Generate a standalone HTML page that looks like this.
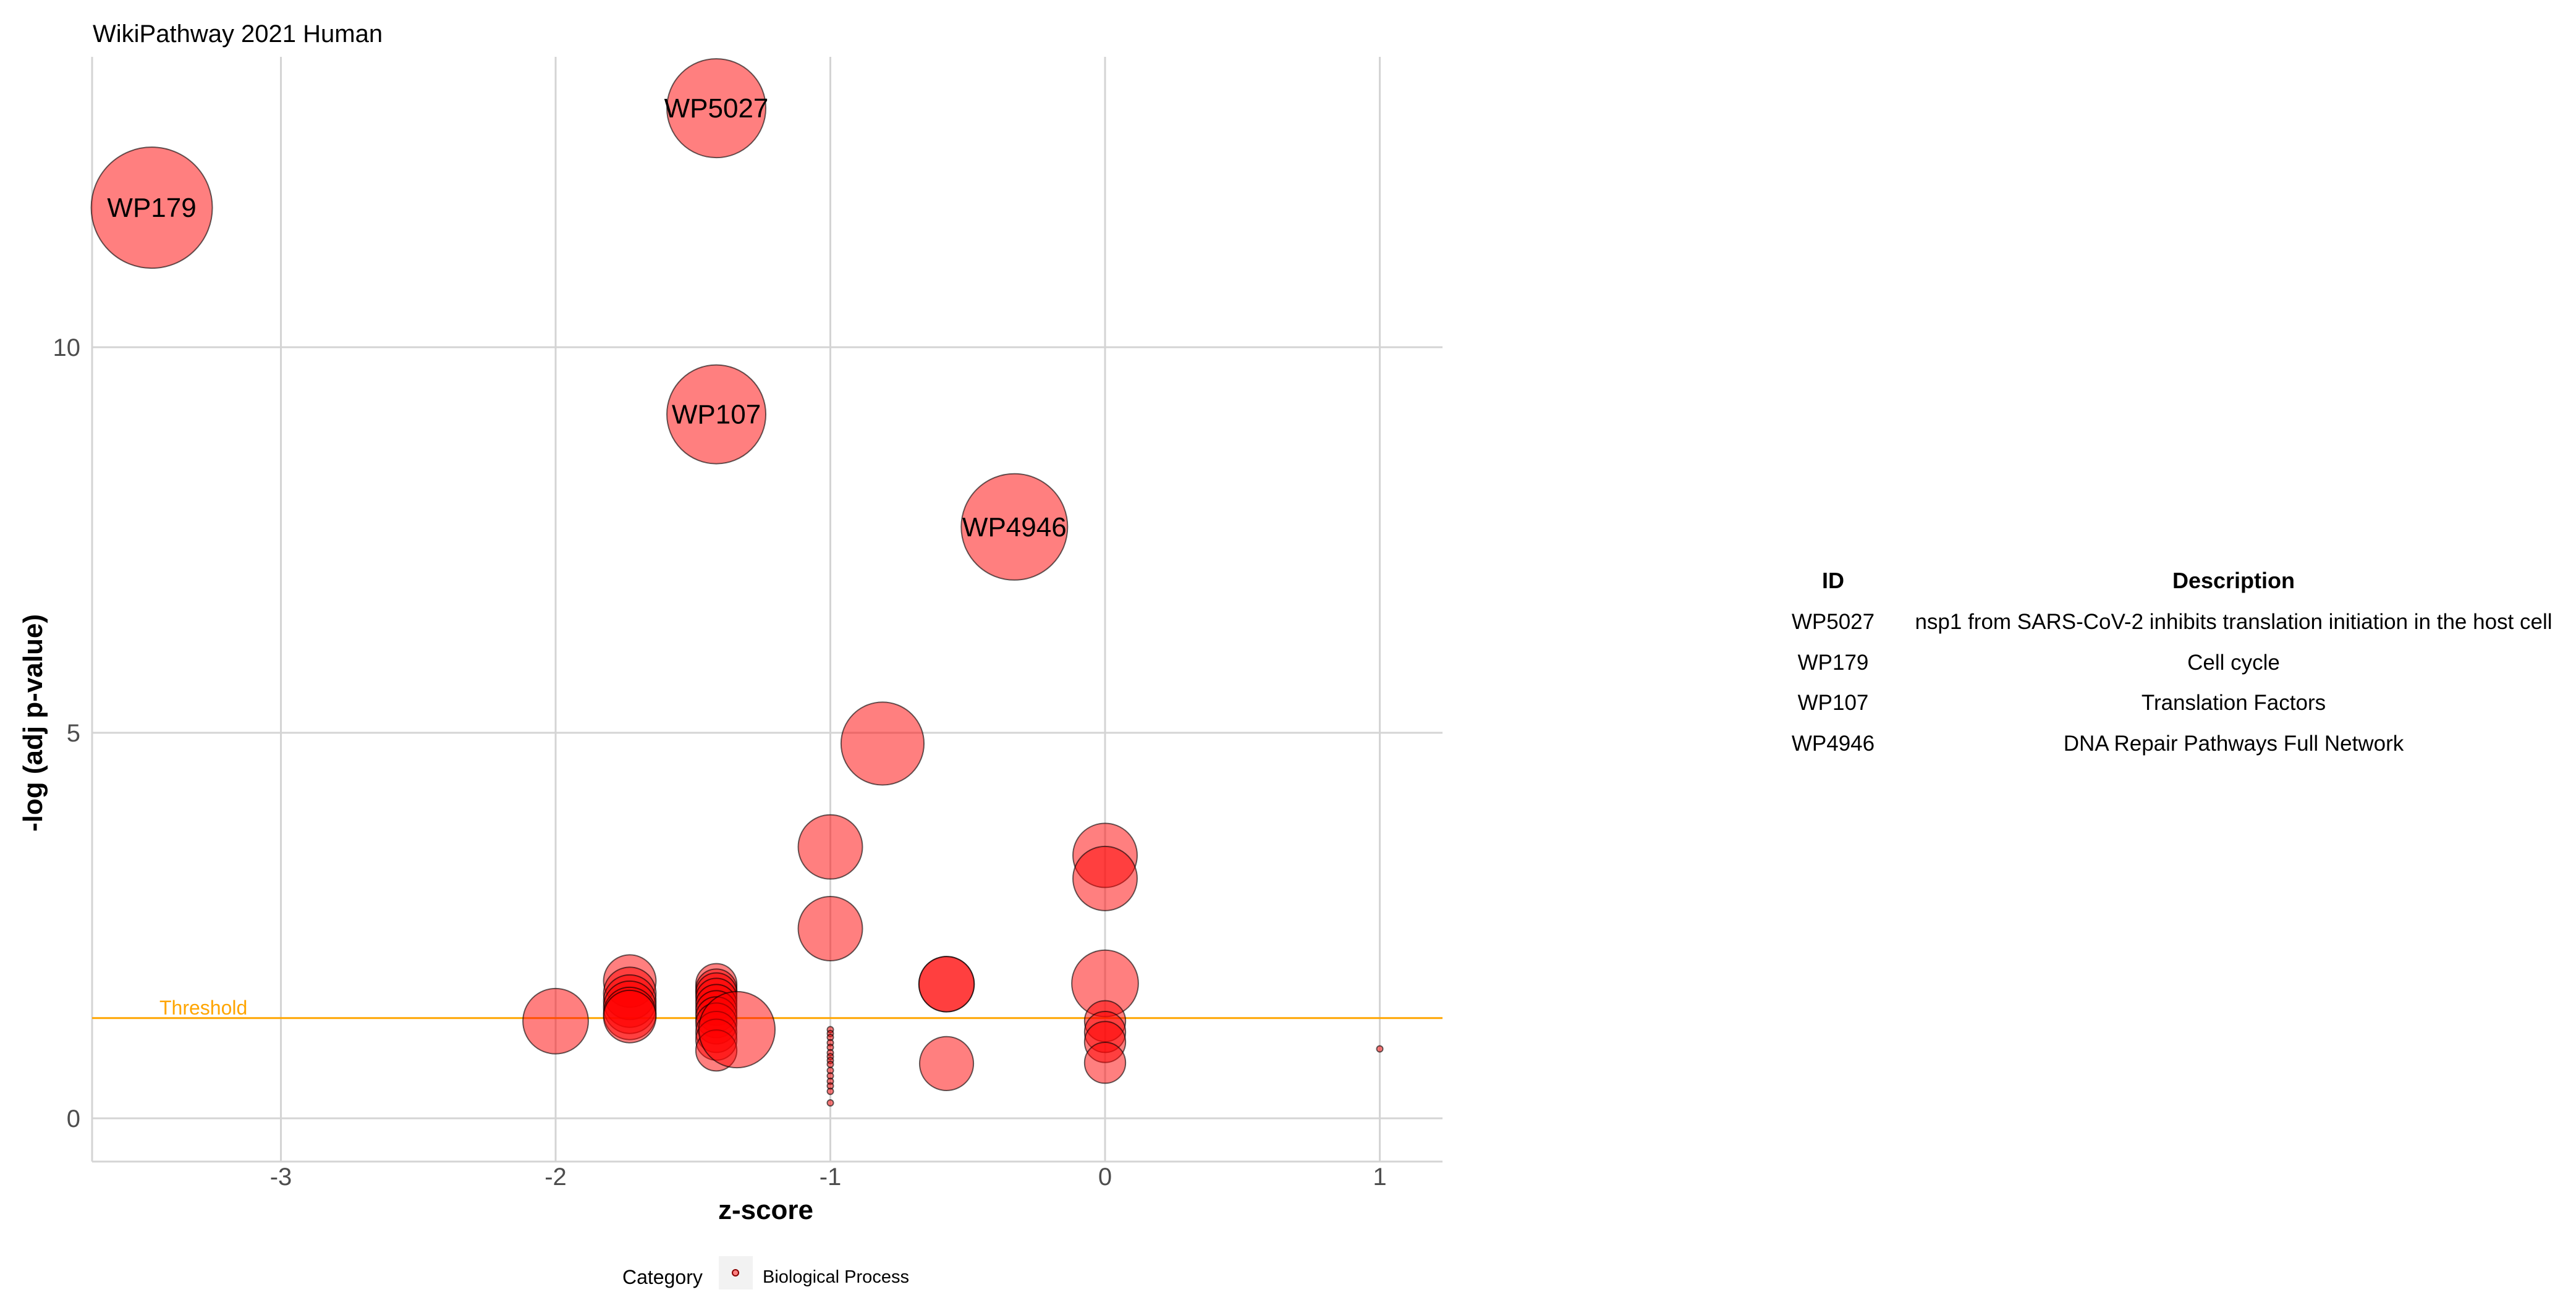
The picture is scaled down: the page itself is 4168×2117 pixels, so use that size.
<!DOCTYPE html>
<html><head><meta charset="utf-8"><style>
html,body{margin:0;padding:0;background:#fff;}
svg{display:block;font-family:"Liberation Sans",Arial,sans-serif;}
</style></head><body>
<svg id="chart" width="4168" height="2117" viewBox="0 0 4168 2117" xmlns="http://www.w3.org/2000/svg">
<text x="150" y="68" font-size="40" fill="#000">WikiPathway 2021 Human</text>
<g id="grid"></g>
<g id="xticks"></g>
<g id="yticks"></g>
<g id="thr"></g>
<g id="bubbles"></g>
<g id="labels"></g>
<text x="1239" y="1973" font-size="44" font-weight="bold" text-anchor="middle" fill="#000">z-score</text>
<text transform="translate(68,1170) rotate(-90)" font-size="44" font-weight="bold" text-anchor="middle" fill="#000">-log (adj p-value)</text>
<g>
<text x="1007" y="2078" font-size="32" fill="#000">Category</text>
<rect x="1163" y="2033" width="55" height="54" fill="#f2f2f2"/>
<circle cx="1190" cy="2060" r="5" fill="#ff8080" stroke="#800" stroke-width="2"/>
<text x="1234" y="2076" font-size="29" fill="#000">Biological Process</text>
</g>
<g id="table">
<text x="2966" y="952" font-size="36" font-weight="bold" text-anchor="middle">ID</text>
<text x="3614" y="952" font-size="36" font-weight="bold" text-anchor="middle">Description</text>
</g>
<script>
const zScores=[-1.415,-3.47,-1.415,-0.33,-0.81,-1,-1,0,0,0,-0.577,-0.577,-0.577,-2,-1.73,-1.73,-1.73,-1.73,-1.73,-1.73,-1.415,-1.415,-1.415,-1.415,-1.415,-1.415,-1.415,-1.415,-1.415,-1.415,-1.415,-1.34,0,0,0,0,-1,-1,-1,-1,-1,-1,-1,-1,-1,-1,-1,-1,-1,-1,-1,1];
const logP=[13.1,11.81,9.13,7.67,4.86,3.52,2.46,3.41,3.11,1.75,1.74,1.74,0.71,1.26,1.78,1.62,1.52,1.44,1.36,1.32,1.74,1.67,1.62,1.55,1.47,1.39,1.31,1.23,1.12,1.02,0.88,1.15,1.26,1.12,0.99,0.72,1.15,1.1,1.05,0.98,0.92,0.85,0.8,0.75,0.7,0.62,0.55,0.48,0.42,0.35,0.2,0.9];
const geneCounts=[64,96,64,74,45,27,27,27,27,29,20,20,19,28,18,18,18,18,18,18,11,11,11,11,11,11,11,11,11,11,11,38,11,11,11,11,0.25,0.25,0.25,0.25,0.25,0.25,0.25,0.25,0.25,0.25,0.25,0.25,0.25,0.25,0.25,0.25];
const labelIds=["WP5027","WP179","WP107","WP4946"];
const xTicks=[-3,-2,-1,0,1];
const yTicks=[0,5,10];
const threshold=1.3;
const tableIds=["WP5027","WP179","WP107","WP4946"];
const tableDesc=["nsp1 from SARS-CoV-2 inhibits translation initiation in the host cell","Cell cycle","Translation Factors","DNA Repair Pathways Full Network"];

const NS="http://www.w3.org/2000/svg";
const PL=149,PR=2334,PT=92,PB=1880;
function xs(v){return 1788+v*444.5;}
function ys(v){return 1810-v*124.8;}
function rs(c){return 10*Math.sqrt(c);}
function mk(tag,attrs,parent){const e=document.createElementNS(NS,tag);for(const k in attrs)e.setAttribute(k,attrs[k]);parent.appendChild(e);return e;}
const grid=document.getElementById('grid');
let l=mk('line',{x1:PL,x2:PL,y1:PT,y2:PB,stroke:'#d4d4d4','stroke-width':3},grid);


l=mk('line',{x1:PL,x2:PR,y1:PB,y2:PB,stroke:'#d4d4d4','stroke-width':3},grid);


xTicks.forEach(t=>{
 const g=mk('line',{x1:xs(t),x2:xs(t),y1:PT,y2:PB,stroke:'#d4d4d4','stroke-width':3},grid);
 
 
 const tx=mk('text',{x:xs(t),y:1918,'font-size':40,'text-anchor':'middle',fill:'#4d4d4d'},document.getElementById('xticks'));
 tx.textContent=String(t);
 
 
});
yTicks.forEach(t=>{
 const g=mk('line',{x1:PL,x2:PR,y1:ys(t),y2:ys(t),stroke:'#d4d4d4','stroke-width':3},grid);
 
 
 const tx=mk('text',{x:130,y:ys(t)+14,'font-size':40,'text-anchor':'end',fill:'#4d4d4d'},document.getElementById('yticks'));
 tx.textContent=String(t);
 
 
});
const thr=document.getElementById('thr');
const tl=mk('line',{x1:PL,x2:PR,y1:ys(threshold),y2:ys(threshold),stroke:'#FFA500','stroke-width':3},thr);


const tt=mk('text',{x:258,y:ys(threshold)-6,'font-size':32,fill:'#FFA500'},thr);
tt.textContent='Threshold';


const bg=document.getElementById('bubbles');
zScores.forEach((z,i)=>{
 const c=mk('circle',{cx:xs(z),cy:ys(logP[i]),r:rs(geneCounts[i]),fill:'rgba(255,0,0,0.5)',stroke:'rgba(0,0,0,0.6)','stroke-width':2},bg);
 
 
});
const lg=document.getElementById('labels');
labelIds.forEach((id,i)=>{
 const t=mk('text',{x:xs(zScores[i]),y:ys(logP[i])+15,'font-size':44,'text-anchor':'middle',fill:'#000'},lg);
 t.textContent=id;
 
 
});
const tb=document.getElementById('table');
const rowY=[1018,1084,1149,1215];
tableIds.forEach((id,i)=>{
 const a=mk('text',{x:2966,y:rowY[i],'font-size':35,'text-anchor':'middle',fill:'#000'},tb);
 a.textContent=id;
 
 
 const b=mk('text',{x:3614,y:rowY[i],'font-size':35,'text-anchor':'middle',fill:'#000'},tb);
 b.textContent=tableDesc[i];
 
 
});
</script>
</svg>
</body></html>
